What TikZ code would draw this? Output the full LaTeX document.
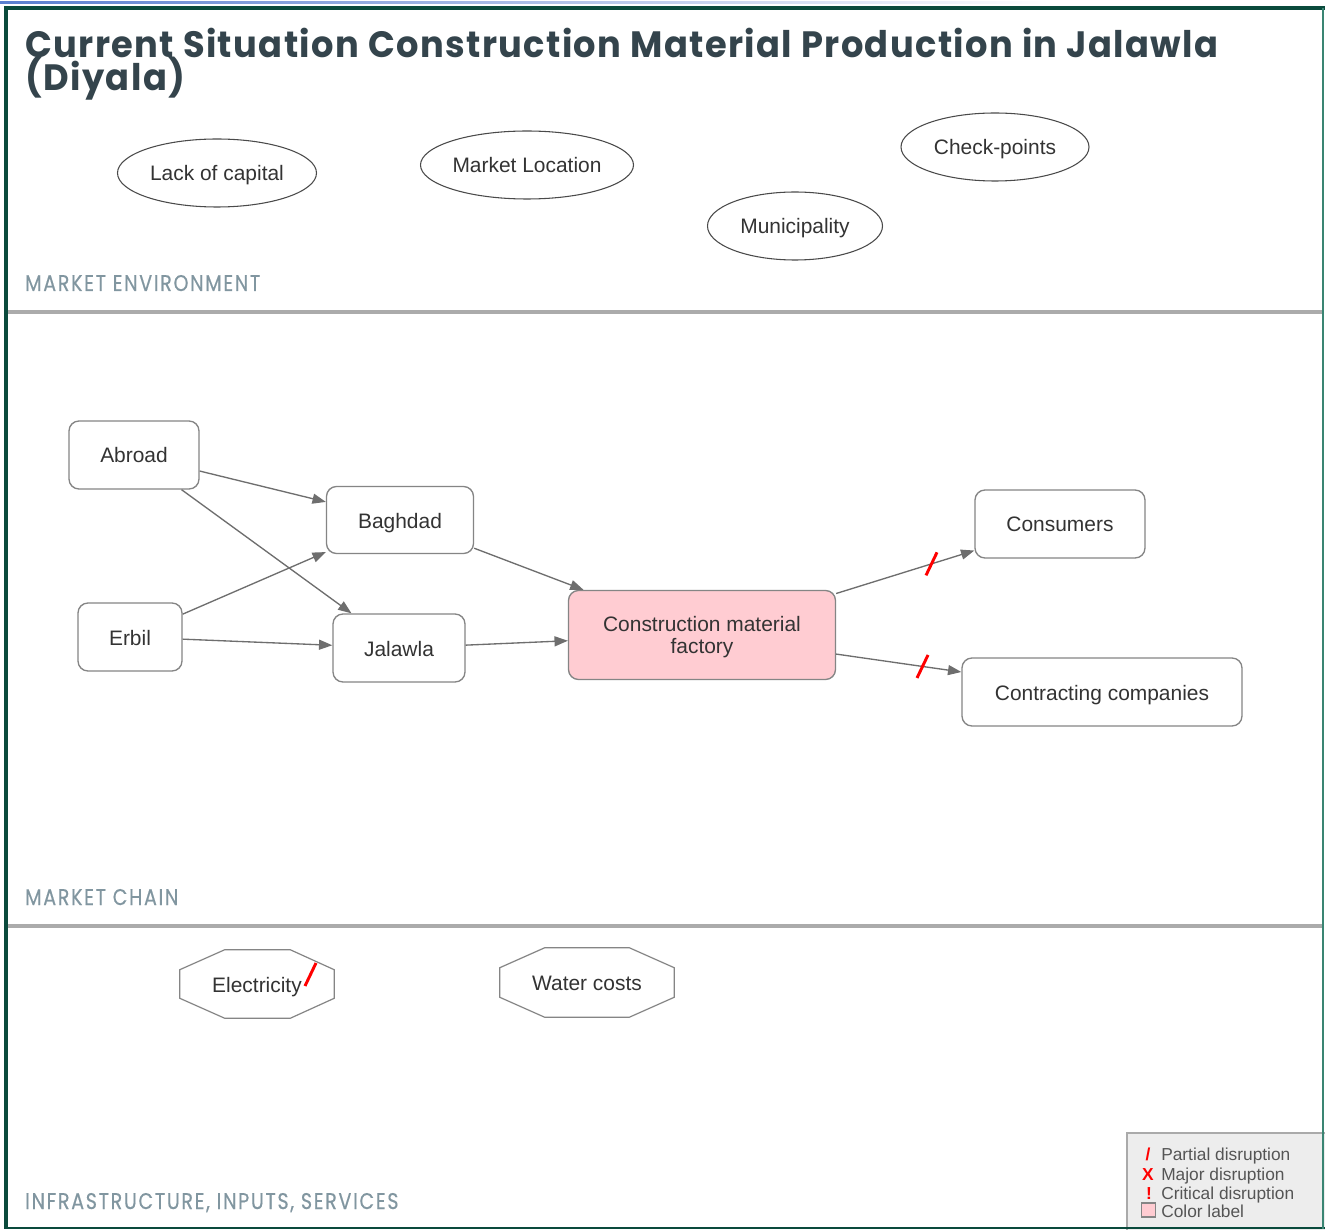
\documentclass[tikz,border=0pt]{standalone}
\usepackage{fontspec}
\setmainfont{Liberation Sans}
\newfontfamily\titlefont{Poppins}[LetterSpace=4]
\newfontfamily\labfont{Poppins}[LetterSpace=9,FakeBold=0.5]
\usetikzlibrary{arrows.meta,shapes.geometric,calc}
\definecolor{framegreen}{HTML}{0A4A3C}
\definecolor{frameright}{HTML}{3A8573}
\definecolor{titlecol}{HTML}{34444C}
\definecolor{labcol}{HTML}{8196A0}
\definecolor{edgecol}{HTML}{6E6E6E}
\definecolor{boxcol}{HTML}{858585}
\definecolor{ellcol}{HTML}{4A4A4A}
\definecolor{pinkfill}{HTML}{FFCCD2}
\definecolor{txtcol}{HTML}{333333}
\definecolor{sepcol}{HTML}{ABABAB}
\definecolor{legfill}{HTML}{EDEDED}
\definecolor{legtxt}{HTML}{555555}
\definecolor{disred}{HTML}{FF0000}
\definecolor{topblue}{HTML}{5A7FD0}
\newcommand\nodefs{\fontsize{15.7}{16}\selectfont}
\newcommand\legfs{\fontsize{13}{14}\selectfont}
\newcommand\titlefs{\titlefont\bfseries\fontsize{27.5}{28}\selectfont}
\newcommand\labfs{\labfont\fontsize{17}{18}\selectfont}
\newlength\mytitlew
\newlength\mylabw
\begin{document}
\settowidth\mytitlew{\titlefs Current Situation Construction Material Production in Jalawla}%
\settowidth\mylabw{\labfs MARKET ENVIRONMENT}%
\pgfmathsetmacro\tsx{894.75pt/\mytitlew}%
\pgfmathsetmacro\lsx{176.25pt/\mylabw}%
\begin{tikzpicture}[x=0.75pt,y=-0.75pt,
  ellnode/.style={ellipse,draw=ellcol,line width=0.8pt,fill=white,inner sep=0pt,font=\nodefs,text=txtcol,text height=15pt,text depth=3pt},
  rbox/.style={draw=boxcol,line width=1pt,rounded corners=7.5pt,fill=white,inner sep=0pt,font=\nodefs,text=txtcol},
  fixtext/.style={text height=15pt,text depth=3pt},
  octtext/.style={inner sep=0pt,font=\nodefs,text=txtcol,text height=15pt,text depth=3pt},
  octo/.style={draw=boxcol,line width=0.9pt},
  flow/.style={draw=edgecol,line width=1pt,-{Triangle[length=10pt,width=7.5pt]}},
  slashmark/.style={draw=disred,line width=2.2pt},
  seclabel/.style={anchor=base west,inner sep=0pt,text=labcol,font=\labfs},
  legtext/.style={anchor=base west,inner sep=0pt,text=legtxt,font=\legfs},
  legsym/.style={anchor=base,inner sep=0pt,text=disred,font=\legfs\bfseries}
]
\useasboundingbox (0,0) rectangle (1325,1230);
\fill[white] (0,0) rectangle (1325,1230);
\shade[left color=topblue,right color=white] (0,1.5) rectangle (1050,3.2);

% title
\begin{scope}[shift={(25,58)}]
\node[anchor=base west,inner sep=0pt,text=titlecol,font=\titlefs,xscale=\tsx,transform shape] (title1) at (0,0) {Current Situation Construction Material Production in Jalawla};
\end{scope}
\begin{scope}[shift={(25,91)}]
\node[anchor=base west,inner sep=0pt,text=titlecol,font=\titlefs,xscale=\tsx,transform shape] (title2) at (0,0) {(Diyala)};
\end{scope}

% section labels
\begin{scope}[shift={(25,291)}]
\node[seclabel,xscale=\lsx,transform shape] (lab1) at (0,0) {MARKET ENVIRONMENT};
\end{scope}
\begin{scope}[shift={(25,905)}]
\node[seclabel,xscale=\lsx,transform shape] (lab2) at (0,0) {MARKET CHAIN};
\end{scope}
\begin{scope}[shift={(25,1209)}]
\node[seclabel,xscale=\lsx,transform shape] (lab3) at (0,0) {INFRASTRUCTURE, INPUTS, SERVICES};
\end{scope}

% separators
\fill[sepcol] (8,310) rectangle (1323,314);
\fill[sepcol] (8,924) rectangle (1323,928);

% market environment
\node[ellnode,minimum width=149.25pt,minimum height=51pt] (cap) at (217,173) {Lack of capital};
\node[ellnode,minimum width=159.75pt,minimum height=51pt] (mloc) at (527,165) {Market Location};
\node[ellnode,minimum width=141pt,minimum height=51pt] (check) at (995,147) {Check-points};
\node[ellnode,minimum width=131.25pt,minimum height=51pt] (muni) at (795,226) {Municipality};

% market chain
\node[rbox,fixtext,minimum width=97.5pt,minimum height=51pt] (abroad) at (134,455) {Abroad};
\node[rbox,fixtext,minimum width=110.25pt,minimum height=50.25pt] (baghdad) at (400,520) {Baghdad};
\node[rbox,fixtext,minimum width=78pt,minimum height=51pt] (erbil) at (130,637) {Erbil};
\node[rbox,fixtext,minimum width=99pt,minimum height=51pt] (jalawla) at (399,648) {Jalawla};
\node[rbox,fill=pinkfill,minimum width=200.25pt,minimum height=66.75pt] (fac) at (702,635) {\raisebox{-2.2pt}[\height][\depth]{\begin{tabular}{@{}c@{}}Construction material\\factory\end{tabular}}};
\node[rbox,fixtext,minimum width=127.5pt,minimum height=51pt] (cons) at (1060,524) {Consumers};
\node[rbox,fixtext,minimum width=210pt,minimum height=51pt] (contr) at (1102,692) {Contracting companies};

\draw[flow] (abroad) -- (baghdad);
\draw[flow] (abroad) -- (jalawla);
\draw[flow] (erbil) -- (baghdad);
\draw[flow] (erbil) -- (jalawla);
\draw[flow] (baghdad) -- (fac);
\draw[flow] (jalawla) -- (fac);
\draw[flow] (fac) -- (cons);
\draw[flow] (fac) -- (contr);
\path (fac) -- (cons) coordinate[pos=0.69] (s1);
\path (fac) -- (contr) coordinate[pos=0.69] (s2);
\draw[slashmark] ($(s1)+(-5.5,11.5)$) -- ($(s1)+(5.5,-11.5)$);
\draw[slashmark] ($(s2)+(-5.5,11.5)$) -- ($(s2)+(5.5,-11.5)$);

% infrastructure
\node[octtext,minimum width=115.5pt,minimum height=51pt] (elec) at (257,984) {Electricity};
\draw[octo] ($(elec.north west)+(45,0)$) -- ($(elec.north east)+(-44,0)$) -- ($(elec.north east)+(0,20)$) -- ($(elec.south east)+(0,-20)$) -- ($(elec.south east)+(-44,0)$) -- ($(elec.south west)+(45,0)$) -- ($(elec.south west)+(0,-20)$) -- ($(elec.north west)+(0,20)$) -- cycle;
\draw[slashmark] ($(elec.center)+(48,2)$) -- ($(elec.center)+(59,-21)$);
\node[octtext,minimum width=130.5pt,minimum height=51.75pt] (water) at (587,982.5) {Water costs};
\draw[octo] ($(water.north west)+(45,0)$) -- ($(water.north east)+(-45,0)$) -- ($(water.north east)+(0,20)$) -- ($(water.south east)+(0,-20)$) -- ($(water.south east)+(-45,0)$) -- ($(water.south west)+(45,0)$) -- ($(water.south west)+(0,-20)$) -- ($(water.north west)+(0,20)$) -- cycle;

% legend
\draw[draw=boxcol!70,fill=legfill,line width=0.8pt] (1127,1133) rectangle (1326,1232);
\node[legsym] (ls1) at (1148,1160) {/};
\node[legtext] (lt1) at (1161,1160) {Partial disruption};
\node[legsym] (ls2) at (1148,1180) {X};
\node[legtext] (lt2) at (1161,1180) {Major disruption};
\node[legsym] (ls3) at (1149,1199) {!};
\node[legtext] (lt3) at (1161,1199) {Critical disruption};
\draw[draw=boxcol,fill=pinkfill,line width=0.8pt] (1141.5,1203) rectangle (1155.5,1217);
\node[legtext] (lt4) at (1161,1217) {Color label};

% frame
\fill[framegreen] (4,6) rectangle (1325,10);
\fill[framegreen] (4,6) rectangle (8,1229);
\fill[framegreen] (4,1226.5) rectangle (1325,1229);
\fill[frameright] (1322.3,8) rectangle (1324,1229);
\end{tikzpicture}
\end{document}
